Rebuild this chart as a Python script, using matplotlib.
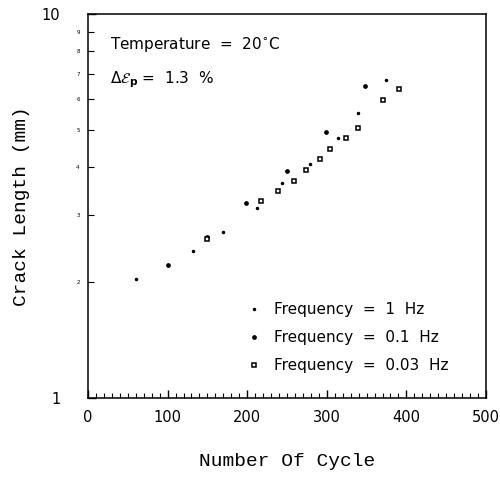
import matplotlib
matplotlib.use("Agg")
import matplotlib.pyplot as plt
from matplotlib.ticker import FixedLocator, MultipleLocator, FixedFormatter
import numpy as np

# valeurs (cycles, longueur de fissure en mm)
n_1hz = [60, 132, 170, 212, 244, 279, 314, 339, 374]
a_1hz = [2.04, 2.41, 2.71, 3.12, 3.64, 4.08, 4.75, 5.52, 6.72]

n_01hz = [100, 150, 199, 250, 299, 348]
a_01hz = [2.22, 2.63, 3.23, 3.90, 4.93, 6.51]

n_003hz = [150, 217, 239, 259, 274, 291, 304, 324, 339, 371, 391]
a_003hz = [2.60, 3.25, 3.47, 3.68, 3.93, 4.19, 4.44, 4.76, 5.05, 5.96, 6.37]

labels = ["Frequency  =  1  Hz", "Frequency  =  0.1  Hz", "Frequency  =  0.03  Hz"]

fig = plt.figure(figsize=(5, 4.9), dpi=100)
ax = fig.add_axes([0.176, 0.188, 0.796, 0.783])

ax.plot(n_1hz, a_1hz, ls="none", marker="o", ms=1.5, color="black", label=labels[0])
ax.plot(n_01hz, a_01hz, ls="none", marker="o", ms=2.4, color="black", label=labels[1])
ax.plot(n_003hz, a_003hz, ls="none", marker="s", ms=3.2, mfc="white",
        mec="black", mew=1.1, label=labels[2])

ax.set_yscale("log")
ax.set_xlim(0, 500)
ax.set_ylim(1, 10)

# graduations
ax.xaxis.set_major_locator(MultipleLocator(100))
ax.xaxis.set_minor_locator(MultipleLocator(10))
ax.yaxis.set_major_locator(FixedLocator([1, 10]))
ax.yaxis.set_minor_locator(FixedLocator([2, 3, 4, 5, 6, 7, 8, 9]))
ax.set_yticklabels(["1", "10"])
ax.yaxis.set_minor_formatter(FixedFormatter(["2", "3", "4", "5", "6", "7", "8", "9"]))
ax.tick_params(which="major", direction="in", length=6, width=1, labelsize=10.5, pad=9)
ax.tick_params(which="minor", direction="in", length=3.5, width=0.8)
ax.tick_params(axis="y", which="minor", labelsize=4, pad=6, length=4)
ax.tick_params(axis="y", which="major", pad=20)

for s in ax.spines.values():
    s.set_linewidth(1.1)

mono = "Liberation Mono"
ax.set_xlabel("Number Of Cycle", family=mono, fontsize=14, labelpad=20)
ax.set_ylabel("Crack Length (mm)", family=mono, fontsize=14, labelpad=8)

ax.text(0.055, 0.92, "Temperature  =  20$^{\\circ}$C", transform=ax.transAxes,
        fontsize=11, va="center")
ax.text(0.055, 0.83, "$\\Delta\\mathcal{E}_{\\mathbf{p}}$ =  1.3  %", transform=ax.transAxes,
        fontsize=11, va="center")

ax.legend(loc="lower left", bbox_to_anchor=(0.40, 0.065), frameon=False,
          borderpad=0, borderaxespad=0,
          fontsize=11, handlelength=0.9, handletextpad=0.85, labelspacing=0.85)

fig.savefig("out.png", dpi=100)
